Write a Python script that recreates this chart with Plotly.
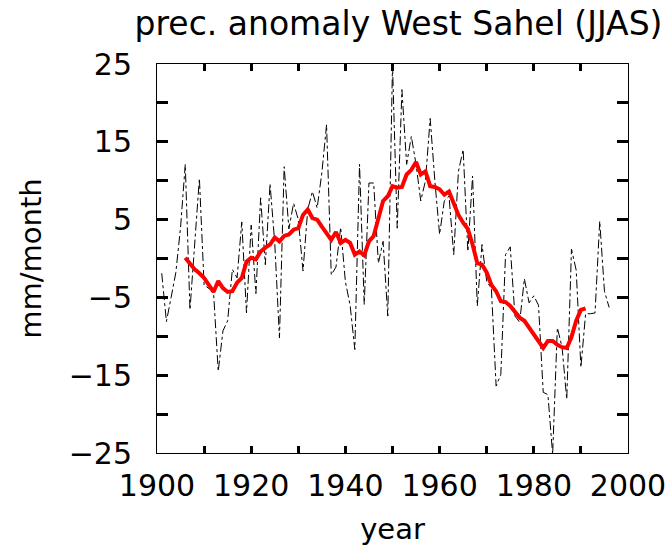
import plotly.graph_objects as go

# Annual JJAS precipitation anomaly, West Sahel (mm/month)
years = list(range(1901, 1997))
anomaly = [
    -1.9, -8.1, -5.0, -1.8, 4.0, 12.1, -6.6, 2.2, 10.3, -3.4,
    -3.8, -4.3, -14.5, -9.3, -8.0, -1.4, -2.5, 4.7, -7.0, 4.3,
    -4.5, 7.8, -0.8, 9.6, 2.0, -10.2, 11.8, 3.8, 7.1, 5.0,
    -1.6, 6.3, 8.6, 6.5, 11.0, 17.2, -2.1, -1.1, 4.0, -3.0,
    -6.0, -11.7, 12.1, -5.9, 9.7, 9.7, -0.6, 2.2, -7.4, 24.9,
    3.9, 21.7, 12.1, 15.7, 12.1, 7.4, 10.0, 18.0, 9.9, 3.1,
    7.4, 8.0, 0.5, 11.2, 14.0, 0.9, 10.6, -6.1, 1.8, -2.9,
    -3.9, -16.4, -14.9, 0.5, 1.5, -7.4, -8.2, -2.6, -5.7, -4.8,
    -6.0, -17.2, -17.5, -25.2, -8.9, -11.4, -18.1, 1.2, -1.5, -14.0,
    -7.1, -7.1, -7.0, 4.8, -4.2, -6.3,
]

# Running mean (centred), 1906-1991
smooth_years = list(range(1906, 1992))
smooth = [
    0.1, -0.7, -1.4, -1.9, -2.5, -3.4, -4.3, -2.9, -3.8, -4.3,
    -4.2, -3.1, -2.5, -0.4, 0.1, -0.1, 0.9, 1.4, 1.8, 2.7,
    2.2, 2.9, 3.1, 3.7, 3.9, 5.6, 6.3, 5.2, 5.0, 4.1,
    3.3, 2.4, 3.4, 2.0, 2.4, 2.0, 0.5, 0.9, 0.4, 2.2,
    2.9, 5.2, 7.4, 8.0, 9.3, 9.1, 9.2, 10.8, 11.4, 12.4,
    10.8, 11.2, 9.3, 9.2, 8.9, 8.2, 8.6, 7.1, 5.6, 4.6,
    3.8, 1.8, -0.6, -0.8, -1.8, -3.4, -4.2, -5.5, -5.6, -6.1,
    -6.9, -7.6, -8.0, -8.9, -9.8, -10.8, -11.5, -10.6, -10.6, -11.1,
    -11.4, -11.5, -10.1, -8.0, -6.6, -6.4,
]

x_ticks = list(range(1900, 2001, 10))
x_labels = [str(v) if v % 20 == 0 else "" for v in x_ticks]
y_ticks = list(range(-25, 26, 5))
y_labels = [("\u2212" + str(-v) if v < 0 else str(v)) if (v - 5) % 10 == 0 else "" for v in y_ticks]

fig = go.Figure()
fig.add_trace(go.Scatter(
    x=years, y=anomaly, mode="lines",
    line=dict(color="black", width=1, dash="dashdot"),
    showlegend=False,
))
fig.add_trace(go.Scatter(
    x=smooth_years, y=smooth, mode="lines",
    line=dict(color="#ff0000", width=4),
    showlegend=False,
))

font = "DejaVu Sans, sans-serif"
base = dict(
    showline=True, linecolor="black", linewidth=1, mirror="ticks",
    ticks="inside", tickwidth=2.5, tickcolor="black",
    showgrid=False, zeroline=False, automargin=False,
    tickfont=dict(family=font, size=30, color="black"),
)

fig.update_layout(
    width=667, height=548,
    margin=dict(l=157, r=39, t=64, b=95),
    paper_bgcolor="white", plot_bgcolor="white",
    title=dict(
        text="prec. anomaly West Sahel (JJAS)",
        font=dict(family=font, size=33, color="black"),
        x=0.5975, xanchor="center", y=0.958, yanchor="middle",
    ),
    xaxis=dict(
        range=[1900, 2000], tickvals=x_ticks, ticktext=x_labels,
        ticklen=7, ticklabelstandoff=6,
        title=dict(text="year", font=dict(family=font, size=29, color="black"), standoff=16),
        **base,
    ),
    yaxis=dict(
        range=[-25, 25], tickvals=y_ticks, ticktext=y_labels,
        ticklen=11, ticklabelstandoff=18,
        title=dict(text="mm/month", font=dict(family=font, size=29, color="black"), standoff=18),
        **base,
    ),
)

fig.write_html("out.html")
